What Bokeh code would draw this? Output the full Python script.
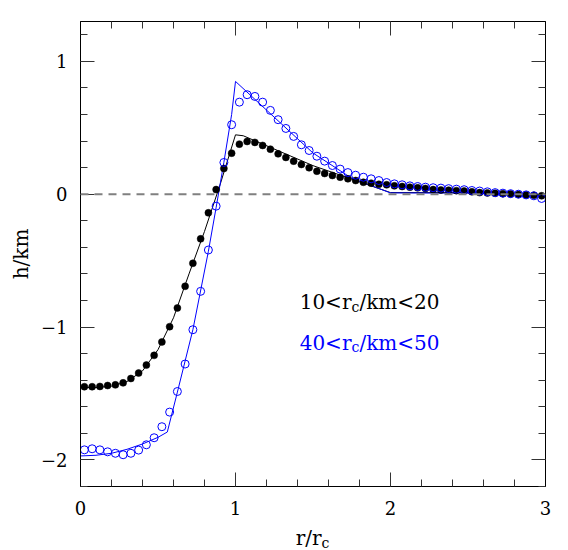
from math import pi
from bokeh.plotting import figure
from bokeh.layouts import column
from bokeh.models import (Range1d, LinearAxis, SingleIntervalTicker, Label, Span,
                          CustomJSTickFormatter, Title)
from bokeh.embed import file_html
from bokeh.resources import INLINE

# bin centres r/r_c
r_bins = [round(0.025 + 0.05 * i, 3) for i in range(60)]

# 10 < r_c/km < 20 (filled black)
h_small = [-1.449, -1.449, -1.447, -1.440, -1.435, -1.420, -1.387, -1.346, -1.286, -1.213,
           -1.112, -0.997, -0.856, -0.693, -0.520, -0.336, -0.140, 0.035, 0.194, 0.309,
           0.377, 0.397, 0.390, 0.367, 0.339, 0.304, 0.277, 0.249, 0.224, 0.199,
           0.173, 0.156, 0.141, 0.128, 0.116, 0.103, 0.090, 0.083, 0.075, 0.071,
           0.063, 0.058, 0.053, 0.048, 0.043, 0.035, 0.032, 0.030, 0.027, 0.024,
           0.018, 0.012, 0.010, 0.007, 0.004, 0.002, -0.002, -0.005, -0.008, -0.012]

# 40 < r_c/km < 50 (open blue)
h_large = [-1.924, -1.916, -1.924, -1.939, -1.950, -1.961, -1.950, -1.926, -1.886, -1.833,
           -1.750, -1.640, -1.485, -1.278, -1.020, -0.731, -0.420, -0.090, 0.239, 0.523,
           0.693, 0.749, 0.736, 0.693, 0.631, 0.561, 0.495, 0.435, 0.372, 0.329,
           0.286, 0.249, 0.216, 0.189, 0.163, 0.143, 0.128, 0.116, 0.103, 0.088,
           0.078, 0.071, 0.063, 0.058, 0.053, 0.049, 0.046, 0.042, 0.038, 0.034,
           0.028, 0.024, 0.018, 0.012, 0.008, 0.004, 0.000, -0.005, -0.012, -0.032]

# model curves
model_r_small = [0.0, 0.1, 0.2, 0.3, 0.4, 0.5, 0.6, 0.7, 0.8, 0.9, 1.0, 1.05, 1.5, 2.0, 2.5, 3.0]
model_h_small = [-1.455, -1.455, -1.445, -1.41, -1.33, -1.17, -0.93, -0.60, -0.28, 0.07,
                 0.447, 0.44, 0.215, 0.012, 0.012, -0.01]
model_r_large = [0.0, 0.1, 0.2, 0.3, 0.4, 0.5, 0.56, 0.625, 0.725, 0.825, 0.875, 0.925,
                 0.975, 1.0, 1.5, 1.75, 2.0, 2.5, 3.0]
model_h_large = [-1.97, -1.965, -1.95, -1.92, -1.88, -1.83, -1.79, -1.49, -1.02, -0.43,
                 -0.10, 0.24, 0.60, 0.849, 0.31, 0.12, 0.01, 0.008, -0.01]

x_tick_labels = {0: "0", 1: "1", 2: "2", 3: "3"}
y_tick_labels = {-2: "\u22122", -1: "\u22121", 0: "0", 1: "1"}

FONT = "DejaVu Serif"
BLUE = "#0000ff"

p = figure(frame_width=465, frame_height=465,
           x_range=Range1d(0, 3), y_range=Range1d(-2.2, 1.3),
           output_backend="svg", toolbar_location=None,
           min_border_left=80, min_border_top=21, min_border_right=15, min_border_bottom=36)
p.xgrid.visible = False
p.ygrid.visible = False
p.outline_line_color = "black"
p.background_fill_color = "white"
p.border_fill_color = "white"

bottom = p.below[0]
left = p.left[0]
top = LinearAxis(formatter=CustomJSTickFormatter(code="return ''"))
right = LinearAxis(formatter=CustomJSTickFormatter(code="return ''"))
p.add_layout(top, "above")
p.add_layout(right, "right")

for ax in [bottom, top, left, right]:
    ax.ticker = SingleIntervalTicker(interval=1, num_minor_ticks=5)
    ax.axis_line_color = "black"
    ax.axis_line_width = 1
    ax.major_tick_in = 14
    ax.major_tick_out = 0
    ax.minor_tick_in = 7
    ax.minor_tick_out = 0
    ax.major_tick_line_color = "#333333"
    ax.minor_tick_line_color = "#333333"
    ax.major_label_text_font = FONT
    ax.major_label_text_font_size = "18px"
    ax.major_label_text_color = "black"

for ax in [top, right]:
    ax.major_label_standoff = 0

bottom.major_label_standoff = 14
bottom.major_label_overrides = x_tick_labels
left.major_label_standoff = 13
left.major_label_overrides = y_tick_labels

# y-axis title
p.add_layout(Title(text="h/km", align="center", text_font=FONT, text_font_size="20px",
                   text_font_style="normal", text_color="black", standoff=10, offset=-12), "left")

p.add_layout(Span(location=0, dimension="width", line_color="#808080",
                  line_dash="8 6", line_width=2))

p.line(model_r_small, model_h_small, line_color="black", line_width=1)
p.line(model_r_large, model_h_large, line_color=BLUE, line_width=1)
p.scatter(r_bins, h_small, size=7, fill_color="black", line_color="black", line_width=0.5)
p.scatter(r_bins, h_large, size=8, fill_color=None, line_color=BLUE, line_width=1)

def lab(fig, x, y, text, color="black", size="20px", align="left"):
    fig.add_layout(Label(x=x, y=y, text=text, text_color=color, text_font=FONT,
                         text_font_size=size, text_align=align, text_baseline="alphabetic"))

# annotations
lab(p, 1.748, -0.814, "10<r", align="right")
lab(p, 1.748, -0.846, "c", size="14px")
lab(p, 1.800, -0.814, "/km<20")
lab(p, 1.748, -1.12, "40<r", color=BLUE, align="right")
lab(p, 1.748, -1.152, "c", color=BLUE, size="14px")
lab(p, 1.800, -1.12, "/km<50", color=BLUE)

# x-axis title strip (keeps the subscript as real text)
q = figure(frame_width=465, frame_height=28, x_range=p.x_range, y_range=Range1d(0, 28),
           output_backend="svg", toolbar_location=None, x_axis_type=None, y_axis_type=None,
           min_border_left=80, min_border_right=15, min_border_top=0, min_border_bottom=0)
q.xgrid.visible = False
q.ygrid.visible = False
q.outline_line_color = None
q.background_fill_color = "white"
q.border_fill_color = "white"
lab(q, 1.555, 13, "r/r", align="right")
lab(q, 1.555, 8, "c", size="14px")

layout = column(p, q, spacing=0)
open("out.html", "w").write(file_html(layout, INLINE))
